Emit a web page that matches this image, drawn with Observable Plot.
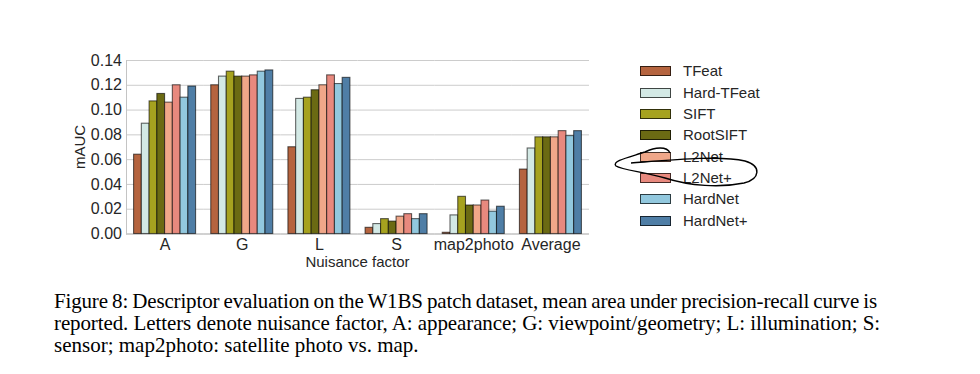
<!DOCTYPE html>
<html><head><meta charset="utf-8">
<script src="https://cdn.jsdelivr.net/npm/d3@7"></script>
<script src="https://cdn.jsdelivr.net/npm/@observablehq/plot@0.6"></script>
<style>
body{margin:0;background:#fff;}
#wrap{position:relative;width:980px;height:374px;overflow:hidden;background:#fff;}
#chart{position:absolute;left:0;top:0;}
.leg{position:absolute;font-family:"Liberation Sans",Arial,sans-serif;font-size:15px;color:#262626;white-space:nowrap;}
.sw{position:absolute;box-sizing:border-box;width:31px;height:10px;border:1px solid rgba(0,0,0,0.7);}
.axlab{position:absolute;font-family:"Liberation Sans",Arial,sans-serif;font-size:15px;color:#262626;white-space:nowrap;line-height:18px;}
#cap{position:absolute;left:54px;top:290px;font-family:"Liberation Serif","Times New Roman",serif;font-size:21px;line-height:22px;color:#000;}
#cap .j{text-align:justify;text-align-last:justify;white-space:nowrap;}
#cap .j1{width:823px;letter-spacing:-0.16px;word-spacing:-1.1px;}
#cap .j2{width:826px;letter-spacing:-0.11px;word-spacing:-0.1px;}
#cap .l{white-space:nowrap;}
#ann{position:absolute;left:0;top:0;pointer-events:none;}
</style></head><body>
<div id="wrap">
<div id="chart"></div>
<div id="legend"></div>
<div class="axlab" id="ylab" style="left:80px;top:147px;transform:translate(-50%,-50%) rotate(-90deg);">mAUC</div>
<div class="axlab" id="xlab" style="left:357.5px;top:253px;transform:translateX(-50%);">Nuisance factor</div>
<div id="cap">
<div class="j j1">Figure 8: Descriptor evaluation on the W1BS patch dataset, mean area under precision-recall curve is</div>
<div class="j j2">reported. Letters denote nuisance factor, A: appearance; G: viewpoint/geometry; L: illumination; S:</div>
<div class="l">sensor; map2photo: satellite photo vs. map.</div>
</div>
<svg id="ann" width="980" height="374"><path d="M631,163 C670,160 720,155 745,161 C762,166 760,179 744,183 C720,188 690,186 665,178 C645,172 622,170 616,166 C611,161 630,157 645,152 C655,147 667,146 670,153" fill="none" stroke="#000" stroke-width="1.4"/></svg>
</div>
<script>
const categories = ["A", "G", "L", "S", "map2photo", "Average"];
const methods = ["TFeat", "Hard-TFeat", "SIFT", "RootSIFT", "L2Net", "L2Net+", "HardNet", "HardNet+"];
const colors = ["#b5643f", "#d3e9e5", "#a6a21f", "#6b6a13", "#f0a789", "#e8897e", "#92c8de", "#4f7ea6"];
const yTicks = [0, 0.02, 0.04, 0.06, 0.08, 0.10, 0.12, 0.14];

const tfeat     = [0.064, 0.120, 0.070, 0.005, 0.001, 0.052];
const hardTfeat = [0.089, 0.127, 0.109, 0.008, 0.015, 0.069];
const sift      = [0.107, 0.131, 0.110, 0.012, 0.030, 0.078];
const rootSift  = [0.113, 0.127, 0.116, 0.010, 0.023, 0.078];
const l2net     = [0.106, 0.127, 0.120, 0.014, 0.023, 0.078];
const l2netPlus = [0.120, 0.128, 0.128, 0.016, 0.027, 0.083];
const hardnet   = [0.110, 0.131, 0.121, 0.012, 0.018, 0.079];
const hardnetPlus = [0.119, 0.132, 0.126, 0.016, 0.022, 0.083];

const series = [tfeat, hardTfeat, sift, rootSift, l2net, l2netPlus, hardnet, hardnetPlus];
const data = methods.flatMap((m, i) => categories.map((c, j) => ({category: c, method: m, value: series[i][j]})));

const chart = Plot.plot({
  width: 980, height: 280,
  marginLeft: 126, marginRight: 391, marginTop: 60, marginBottom: 46.5,
  style: {fontFamily: "Liberation Sans, Arial, sans-serif", fontSize: "16px", color: "#262626", background: "transparent"},
  fx: {domain: categories, padding: 0, round: false},
  x: {domain: methods, paddingInner: 0, paddingOuter: 0.978, round: false, axis: null},
  y: {domain: [0, 0.14]},
  color: {domain: methods, range: colors},
  marks: [
    Plot.gridY({ticks: yTicks, stroke: "#cccccc", strokeOpacity: 1, strokeWidth: 1}),
    Plot.ruleY([0], {stroke: "#bdbdbd"}),
    Plot.frame({anchor: "left", stroke: "#c4c4c4", facetAnchor: "left"}),
    Plot.barY(data, {fx: "category", x: "method", y: "value", fill: "method", stroke: "#000", strokeOpacity: 0.6, strokeWidth: 1.1}),
    Plot.axisY({ticks: yTicks, tickFormat: d3.format(".2f"), tickSize: 0, tickPadding: 4.5, label: null, fontSize: 16}),
    Plot.axisFx({anchor: "bottom", tickSize: 0, tickPadding: 4.5, label: null, fontSize: 16})
  ]
});
document.getElementById("chart").appendChild(chart);

const leg = document.getElementById("legend");
const colorScale = chart.scale("color");
methods.forEach((m, i) => {
  const cy = 71.2 + i * 21.36;
  const sw = document.createElement("div");
  sw.className = "sw";
  sw.style.left = "640px";
  sw.style.top = (cy - 5) + "px";
  sw.style.background = colorScale.apply(m);
  leg.appendChild(sw);
  const t = document.createElement("div");
  t.className = "leg";
  t.style.left = "683px";
  t.style.top = (cy - 9) + "px";
  t.style.lineHeight = "18px";
  t.textContent = m;
  leg.appendChild(t);
});
</script>
</body></html>
